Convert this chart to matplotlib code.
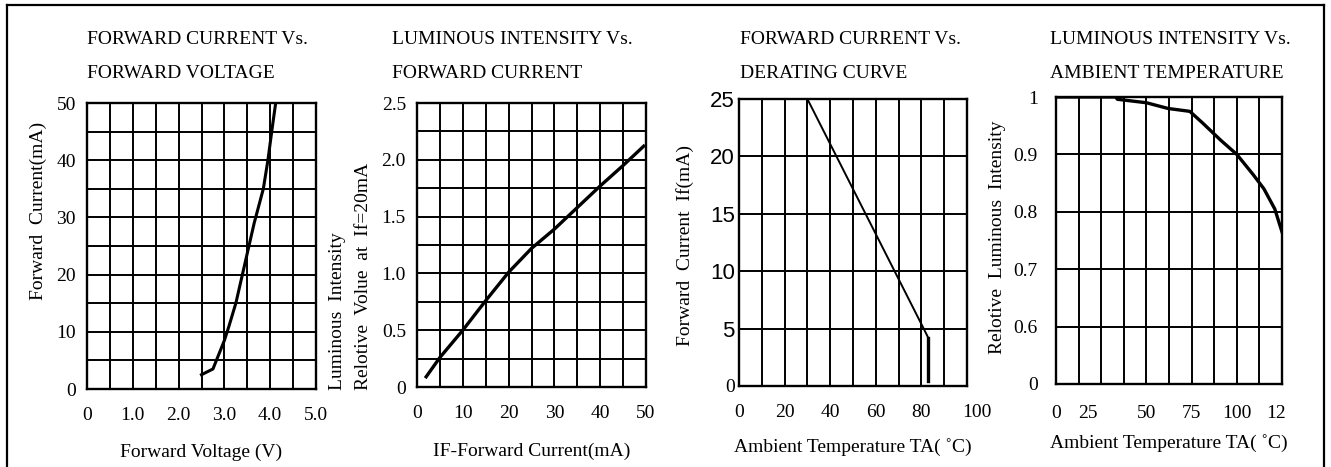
import matplotlib
matplotlib.use("Agg")
import matplotlib.pyplot as plt
from matplotlib.lines import Line2D
from matplotlib.transforms import ScaledTranslation

# --- data ---
vf = [2.5, 2.75, 2.9, 3.0, 3.1, 3.25, 3.45, 3.65, 3.85, 3.95, 4.05, 4.12]
if_fwd = [2.5, 3.5, 6.5, 8.5, 11, 15, 22, 29, 35, 40, 46, 50]

if_rel = [2, 5, 10, 15, 20, 25, 30, 35, 40, 45, 49.5]
lum_rel = [0.09, 0.26, 0.5, 0.76, 1.01, 1.22, 1.39, 1.58, 1.77, 1.95, 2.12]

ta_derate = [0, 30, 81, 83, 83]
if_derate = [25, 25, 5, 4.2, 0.4]

ta_lum = [0, 33, 34, 50, 62, 74, 81, 91, 100, 109, 115, 121, 125]
lum_ta = [1.0, 1.0, 0.996, 0.99, 0.98, 0.975, 0.955, 0.925, 0.9, 0.865, 0.84, 0.805, 0.765]

W, H = 1331, 467
SERIF = ["Liberation Serif", "DejaVu Serif"]
SANS = ["Liberation Sans", "DejaVu Sans"]

fig = plt.figure(figsize=(W / 100, H / 100), dpi=100)


def px_axes(x0, y0, x1, y1):
    return fig.add_axes([x0 / W, 1 - y1 / H, (x1 - x0) / W, (y1 - y0) / H])


def ftext(x, y, s, **kw):
    kw.setdefault("family", SERIF)
    kw.setdefault("fontsize", 14)
    fig.text(x / W, 1 - y / H, s, **kw)


def style(ax, xgrid, ygrid):
    # grid on every division, even where a labelled tick sits
    ax.xaxis.remove_overlapping_locs = False
    ax.yaxis.remove_overlapping_locs = False
    ax.set_xticks(xgrid, minor=True)
    ax.set_yticks(ygrid, minor=True)
    ax.grid(which="minor", color="black", lw=1.4)
    ax.tick_params(which="both", length=0, labelsize=14)
    ax.tick_params(axis="x", pad=13)
    ax.tick_params(axis="y", pad=8)
    for sp in ax.spines.values():
        sp.set_linewidth(1.7)
    for lbl in ax.get_xticklabels() + ax.get_yticklabels():
        lbl.set_family(SERIF)


# panel 1
ax1 = px_axes(87, 103, 316, 389)
ax1.plot(vf, if_fwd, color="black", lw=2.2)
ax1.set_xlim(0, 5)
ax1.set_ylim(0, 50)
ax1.set_xticks([0, 1, 2, 3, 4, 5], ["0", "1.0", "2.0", "3.0", "4.0", "5.0"])
ax1.set_yticks([0, 10, 20, 30, 40, 50])
style(ax1, [i * 0.5 for i in range(11)], [i * 5 for i in range(11)])

# panel 2
ax2 = px_axes(417, 103, 646, 387)
ax2.plot(if_rel, lum_rel, color="black", lw=2.4)
ax2.set_xlim(0, 50)
ax2.set_ylim(0, 2.5)
ax2.set_xticks([0, 10, 20, 30, 40, 50])
ax2.set_yticks([0, 0.5, 1.0, 1.5, 2.0, 2.5], ["0", "0.5", "1.0", "1.5", "2.0", "2.5"])
style(ax2, [i * 5 for i in range(11)], [i * 0.25 for i in range(11)])

# panel 3
ax3 = px_axes(739, 99, 967, 386)
ax3.plot(ta_derate, if_derate, color="black", lw=1.4)
ax3.plot(ta_derate[-2:], if_derate[-2:], color="black", lw=2.4)
ax3.set_xlim(0, 100)
ax3.set_ylim(0, 25)
ax3.set_xticks([0, 20, 40, 60, 80, 100])
ax3.set_yticks([0, 5, 10, 15, 20, 25])
style(ax3, [i * 10 for i in range(11)], [i * 5 for i in range(6)])
ax3.tick_params(axis="y", pad=3)
for i, lbl in enumerate(ax3.get_yticklabels()):
    if i > 0:
        lbl.set_family(SANS)
        lbl.set_fontsize(16)
lbl = ax3.get_xticklabels()[-1]
lbl.set_transform(lbl.get_transform() + ScaledTranslation(0.1, 0, fig.dpi_scale_trans))

# panel 4
ax4 = px_axes(1056, 97, 1282, 384)
ax4.plot(ta_lum, lum_ta, color="black", lw=2.4)
ax4.set_xlim(0, 125)
ax4.set_ylim(0.5, 1.0)
ax4.set_xticks([0, 17.5, 50, 75, 100, 121.5], ["0", "25", "50", "75", "100", "12"])
ax4.set_yticks([0.5, 0.6, 0.7, 0.8, 0.9, 1.0], ["0", "0.6", "0.7", "0.8", "0.9", "1"])
style(ax4, [i * 12.5 for i in range(11)], [0.5, 0.6, 0.7, 0.8, 0.9, 1.0])
ax4.tick_params(axis="y", pad=13)
ax4.tick_params(axis="x", pad=15)

# titles
for x, l1, l2 in [(87, "FORWARD CURRENT Vs.", "FORWARD VOLTAGE"),
                  (392, "LUMINOUS INTENSITY Vs.", "FORWARD CURRENT"),
                  (740, "FORWARD CURRENT Vs.", "DERATING CURVE"),
                  (1050, "LUMINOUS INTENSITY Vs.", "AMBIENT TEMPERATURE")]:
    ftext(x, 40, l1, ha="left", va="center")
    ftext(x, 74, l2, ha="left", va="center")

# axis labels
ftext(201, 452, "Forward Voltage (V)", ha="center", va="center")
ftext(532, 451, "IF-Forward Current(mA)", ha="center", va="center")
ftext(853, 447, "Ambient Temperature TA( \u02daC)", ha="center", va="center")
ftext(1169, 443, "Ambient Temperature TA( \u02daC)", ha="center", va="center")

ftext(38, 211, "Forward  Current(mA)", rotation=90, ha="center", va="center")
ftext(337, 390, "Luminous  Intensity", rotation=90, ha="center", va="bottom")
ftext(364, 390, "Relotive  Volue  at  If=20mA", rotation=90, ha="center", va="bottom")
ftext(685, 245, "Forward  Current  If(mA)", rotation=90, ha="center", va="center")
ftext(998, 237, "Relotive  Luminous  Intensity", rotation=90, ha="center", va="center")

# outer frame of the datasheet section
for xs, ys in [([7, 7], [5, H]), ([7, 1324], [5, 5]), ([1324, 1324], [5, H])]:
    fig.add_artist(Line2D([x / W for x in xs], [1 - y / H for y in ys],
                          color="black", lw=1.6, transform=fig.transFigure))

fig.savefig("out.png", dpi=100)
